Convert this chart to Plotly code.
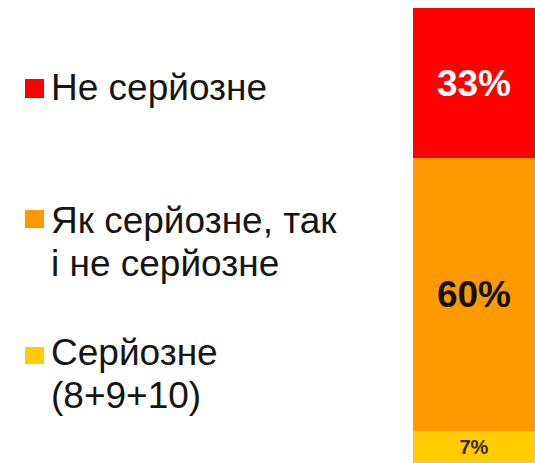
import plotly.graph_objects as go

W, H = 535, 463

categories = ["Серйозне (8+9+10)", "Як серйозне, так і не серйозне", "Не серйозне"]
legend_lines = [["Серйозне", "(8+9+10)"], ["Як серйозне, так", "і не серйозне"], ["Не серйозне"]]
values = [7, 60, 33]
colors = ["#FFCC00", "#FF9900", "#FF0000"]
text_colors = ["#3a2600", "#111111", "#FFFFFF"]
text_sizes = [20, 37, 37]

FONT = "Liberation Sans, Arial, sans-serif"

fig = go.Figure()
for cat, v, c, tc, ts in zip(categories, values, colors, text_colors, text_sizes):
    fig.add_trace(go.Bar(
        x=["bar"], y=[v], name=cat,
        marker=dict(color=c, line=dict(width=0)),
        text=[f"{v}%"], textposition="inside", insidetextanchor="middle",
        textfont=dict(family=FONT, size=ts, color=tc, weight="bold"),
        showlegend=False, width=1, hoverinfo="skip",
    ))

# legend drawn as squares + text lines (layout positions, px from top)
LEG_FS = 37
first_baseline = [365, 233, 100]
line_gap = 43
sq_y = [(347, 364), (210, 228), (79, 98)]
for lines, c, b0, (y0, y1) in zip(legend_lines, colors, first_baseline, sq_y):
    for i, ln in enumerate(lines):
        mid = b0 + i * line_gap - 0.3465 * LEG_FS
        fig.add_annotation(
            x=49 / W, y=1 - mid / H, xref="paper", yref="paper",
            xanchor="left", yanchor="middle", align="left", showarrow=False,
            text=ln, font=dict(family=FONT, size=LEG_FS, color="#151515"),
        )
    fig.add_shape(type="rect", xref="paper", yref="paper",
                  x0=25 / W, x1=44 / W, y0=1 - y1 / H, y1=1 - y0 / H,
                  fillcolor=c, line=dict(width=0))

fig.update_layout(
    width=W, height=H, barmode="stack",
    margin=dict(l=0, r=0, t=0, b=0),
    paper_bgcolor="white", plot_bgcolor="white",
    xaxis=dict(domain=[413 / W, 1], range=[-0.5, 0.5], visible=False),
    yaxis=dict(domain=[0, 1 - 8 / H], range=[0, 100], visible=False),
)
fig.write_html("out.html", config={"displayModeBar": False},
               post_script="document.body.style.margin='0';document.body.style.overflow='hidden';")
